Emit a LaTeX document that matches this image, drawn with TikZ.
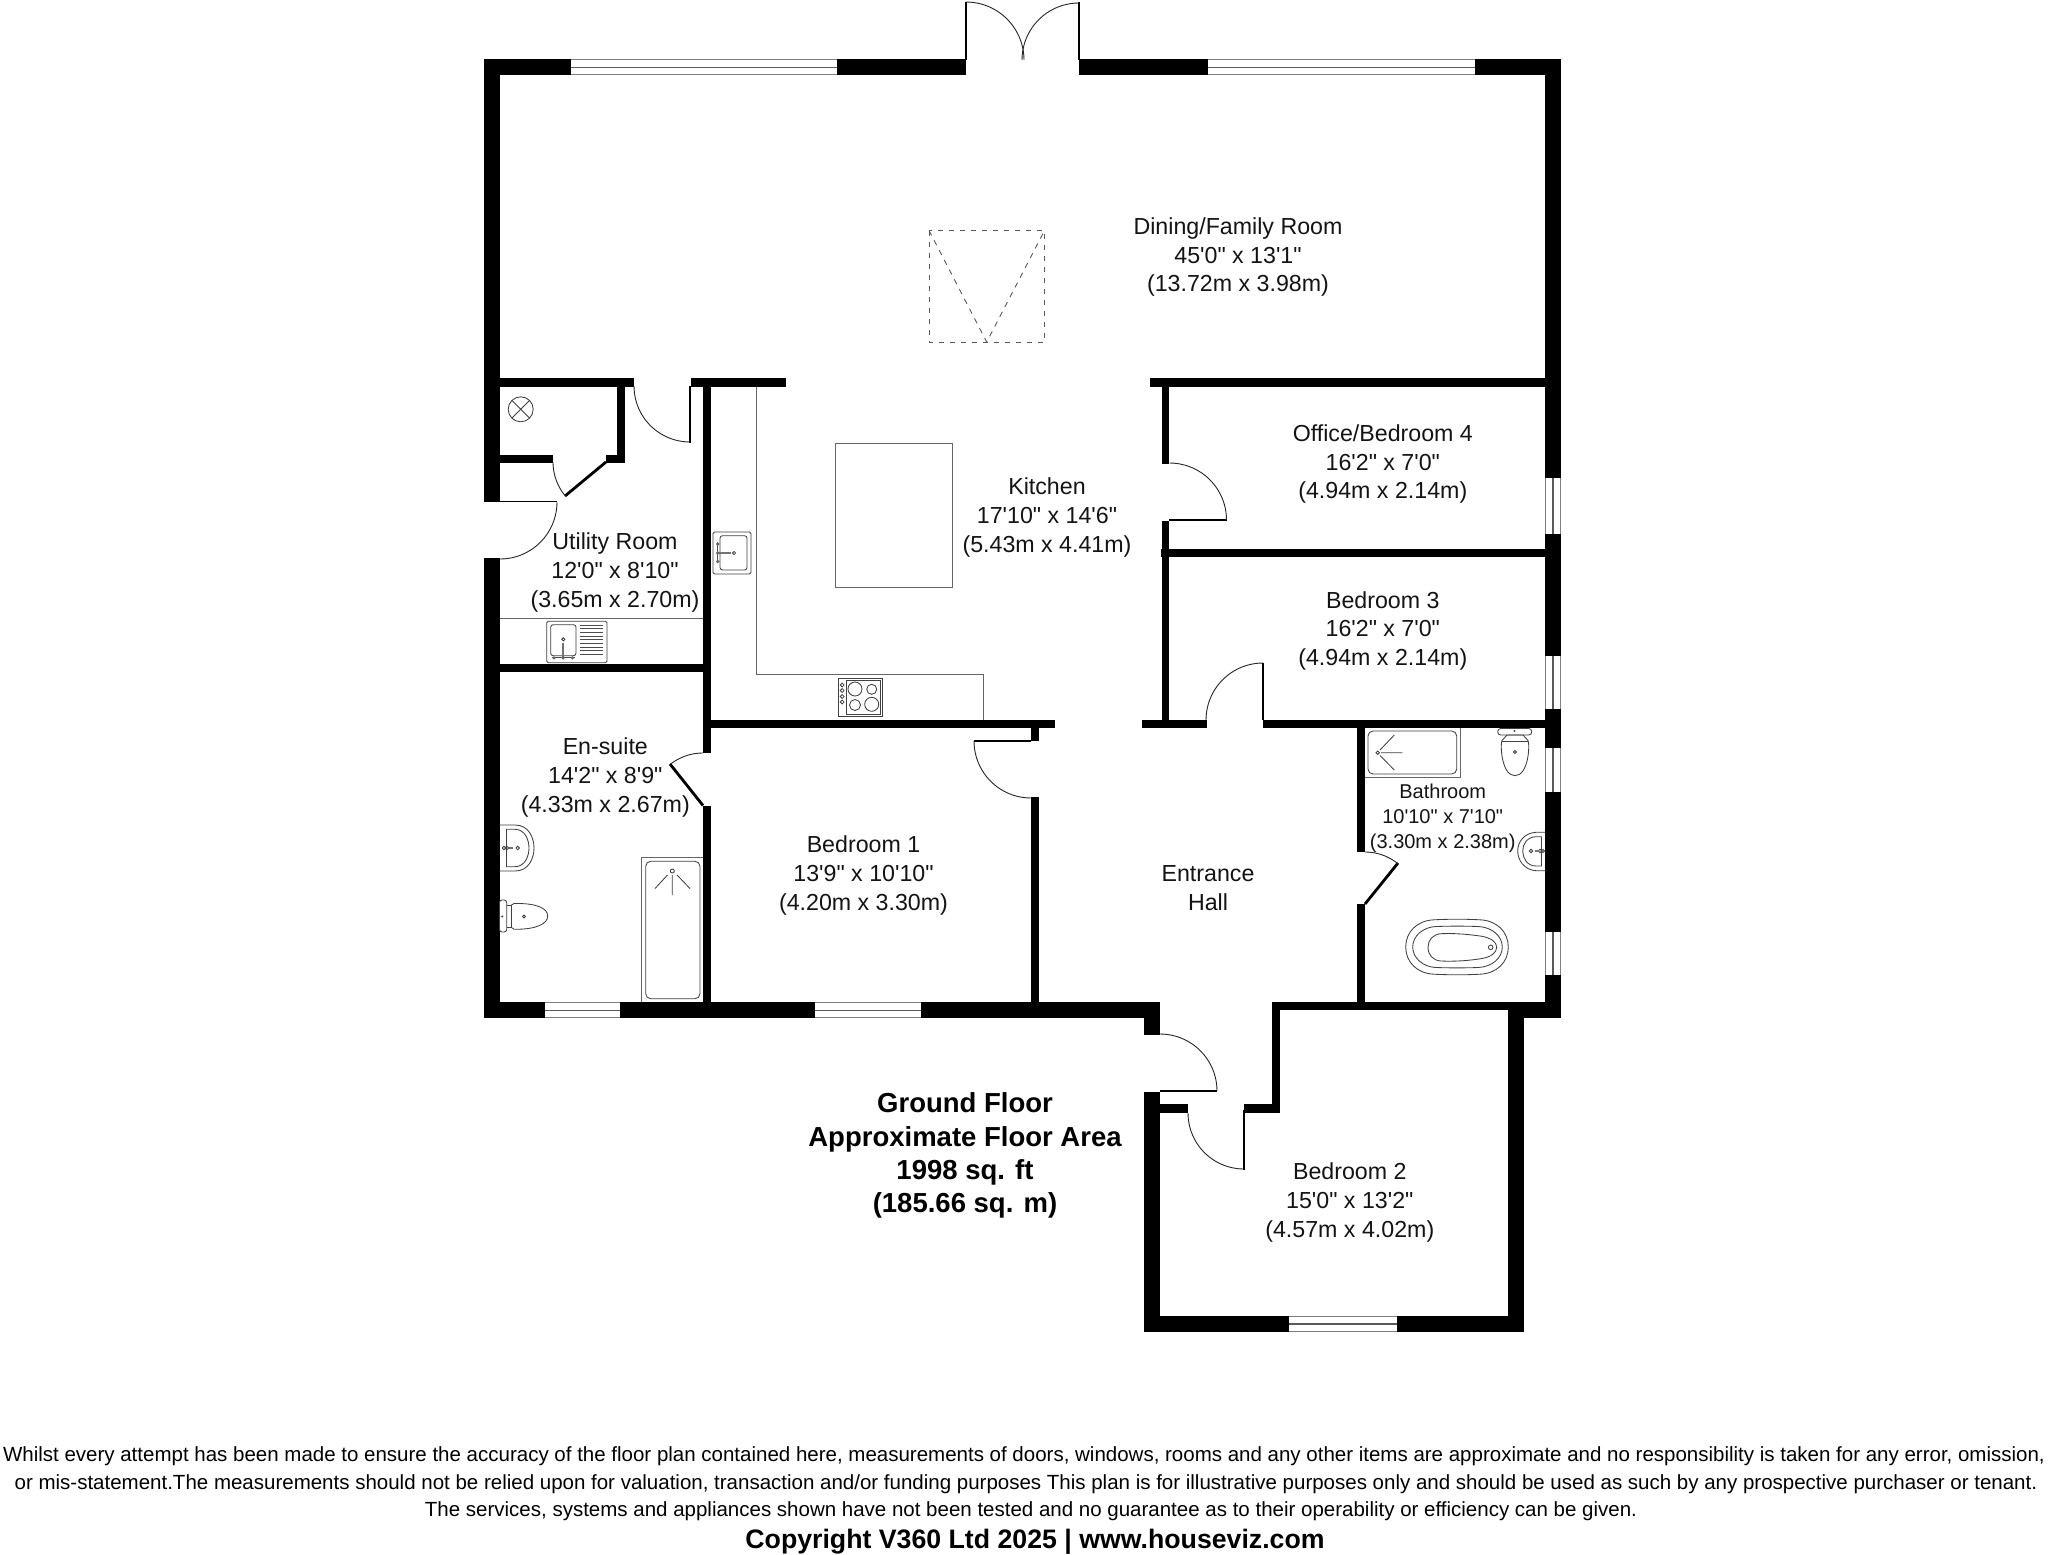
\documentclass[tikz,border=0pt]{standalone}
\usepackage{fontspec}
\newfontfamily\lib{Liberation Sans}
\usetikzlibrary{calc}
\tikzset{
  x=1pt,y=-1pt,
  wallfill/.style={fill=black,draw=none},
  leaf/.style={draw=black,line width=1.9pt},
  thickleaf/.style={draw=black,line width=2.8pt},
  swing/.style={draw=black!85,line width=.9pt},
  pane/.style={draw=black!50,line width=1pt},
  mull/.style={draw=black!65,line width=1.2pt},
  fix/.style={draw=black!75,line width=.85pt},
  counter/.style={draw=black!60,line width=1pt},
  skyl/.style={draw=black!65,line width=.9pt,dash pattern=on 5.5pt off 5.5pt},
  room/.style={font=\lib\fontsize{23.2}{28.7}\selectfont,align=center,inner sep=0pt,text=black!92},
  smallroom/.style={font=\lib\fontsize{20}{25}\selectfont,align=center,inner sep=0pt,text=black!92},
  boldlab/.style={font=\lib\bfseries\fontsize{27.5}{33.2}\selectfont,align=center,inner sep=0pt},
  foot/.style={font=\lib\fontsize{20.5}{27.5}\selectfont,inner sep=0pt},
  copyr/.style={font=\lib\bfseries\fontsize{26.7}{30}\selectfont,inner sep=0pt},
}
\newcommand{\wl}[4]{\fill[wallfill] (#1,#2) rectangle (#3,#4);}
\newcommand{\hwin}[3]{\draw[pane] (#1,#3+.5) -- (#2,#3+.5) (#1,#3+15.5) -- (#2,#3+15.5);\draw[mull] (#1,#3+8) -- (#2,#3+8);}
\newcommand{\vwin}[3]{\draw[pane] (#3+.5,#1) -- (#3+.5,#2) (#3+15.5,#1) -- (#3+15.5,#2);\draw[mull] (#3+8,#1) -- (#3+8,#2);}
\newcommand{\sw}[5]{\draw[swing] plot[domain=#4:#5,samples=24,variable=\t] ({#1+#3*cos(\t)},{#2+#3*sin(\t)});}
\begin{document}
\begin{tikzpicture}
\useasboundingbox (0,0) rectangle (2048,1555);
\fill[white] (0,0) rectangle (2048,1555);

% outer walls
\wl{484}{59.5}{499.5}{502}
\wl{484}{558}{499.5}{1018}
\wl{484}{59.5}{571}{75}
\wl{837}{59.5}{966}{75}
\wl{1079}{59.5}{1208}{75}
\wl{1475}{59.5}{1561}{75}
\wl{1545}{59.5}{1561}{478}
\wl{1545}{534}{1561}{656}
\wl{1545}{709}{1561}{748}
\wl{1545}{792}{1561}{932}
\wl{1545}{975}{1561}{1018}
\wl{484}{1002.3}{545}{1018}
\wl{620}{1002.3}{815}{1018}
\wl{921}{1002.3}{1160}{1018}
\wl{1144}{1002.3}{1160}{1035}
\wl{1144}{1092}{1160}{1332}
\wl{1144}{1316}{1289}{1332}
\wl{1397}{1316}{1524}{1332}
\wl{1508}{1002.3}{1524}{1332}
\wl{1524}{1002.3}{1561}{1018}
% windows, top
\hwin{571}{837}{59.5}
\hwin{1208}{1475}{59.5}
\hwin{545}{620}{1002.3}
\hwin{815}{921}{1002.3}
\hwin{1289}{1397}{1316}
% windows, right
\vwin{478}{534}{1545}
\vwin{656}{709}{1545}
\vwin{748}{792}{1545}
\vwin{932}{975}{1545}

% inner walls
\wl{499}{378}{634}{386.5}
\wl{691}{378}{786}{386.5}
\wl{1150}{378}{1546}{386.5}
\wl{616.7}{378}{624.7}{462}
\wl{499}{454.5}{553.3}{462.5}
\wl{606}{454.5}{624.7}{462.5}
\wl{702.8}{378}{711}{753}
\wl{702.8}{806}{711}{1003}
\wl{499}{664}{703}{672}
\wl{703}{719.5}{1055}{728.3}
\wl{1031}{728}{1039}{741}
\wl{1031}{797}{1039}{1003}
\wl{1161.7}{380}{1169.3}{463.5}
\wl{1161.7}{520.5}{1169.3}{720}
\wl{1161}{549}{1546}{557.3}
\wl{1142}{720}{1206.7}{728.3}
\wl{1263.3}{720}{1546}{728.3}
\wl{1356.7}{720}{1365}{851.7}
\wl{1356.7}{904.3}{1365}{1003}
\wl{1272.3}{1002.3}{1546}{1010.3}
\wl{1272.3}{1002.3}{1280}{1112.7}
\wl{1244}{1104.3}{1280}{1112.7}
\wl{1160}{1104.3}{1187.7}{1112.7}

% door leaves and swings
\draw[leaf] (966,60) -- (966,2);
\sw{966}{60}{58}{270}{360}
\draw[leaf] (1079,60) -- (1079,2);
\sw{1079}{60}{57}{180}{270}
\draw[leaf] (484,501.5) -- (557,501.5);
\sw{500}{502}{57}{0}{90}
\draw[thickleaf] (606,462) -- (565,496);
\sw{606}{462}{53}{140}{180}
\draw[leaf] (690,386) -- (690,442.7);
\sw{690}{386}{56}{90}{180}
\draw[thickleaf] (703,805.5) -- (670,764);
\sw{703}{806}{53}{232}{270}
\draw[leaf] (974,741) -- (1031,741);
\sw{1031}{741}{57}{90}{180}
\draw[leaf] (1169,520) -- (1226.7,520);
\sw{1169.5}{520}{57}{270}{360}
\draw[leaf] (1263,720) -- (1263,662.5);
\sw{1263}{720}{57}{180}{270}
\draw[thickleaf] (1365,904) -- (1398,863);
\sw{1365}{904}{52}{270}{309}
\draw[leaf] (1160,1091) -- (1217,1091);
\sw{1160}{1091}{57}{270}{360}
\draw[leaf] (1244,1110) -- (1244,1169.5);
\sw{1244}{1113}{56}{90}{180}

% skylight
\draw[skyl] (929,230.5) rectangle (1044.5,342);
\draw[skyl] (929,230.5) -- (986.7,342) -- (1044.5,230.5);

% boiler
\draw[fix] (520.7,409.3) circle[radius=12.5];
\draw[fix] (512,400.5) -- (529.5,418) (512,418) -- (529.5,400.5);

% utility worktop and sink
\draw[counter] (499.5,618) -- (703,618);
\draw[fix,rounded corners=1.5pt] (546.7,621.3) rectangle (607,662.7);
\draw[fix,rounded corners=2.5pt] (550.7,624.7) rectangle (576,655.7);
\foreach \yy in {625,628.7,632.4,636.1,639.8,643.5,647.2,650.9,654.6}{\draw[draw=black!70,line width=.85pt] (580,\yy) -- (603,\yy);}
\draw[fix] (563.3,639.3) circle[radius=1.6];
\draw[draw=black!55,line width=1.8pt] (563.3,643) -- (563.3,659);
\draw[draw=black!70,line width=1.2pt] (552,657.8) -- (575,657.8);
\foreach \xx in {554,563.3,572.5}{\fill[black!60] (\xx,657.8) circle[radius=1.8];}

% kitchen worktop, island, sink, hob
\draw[counter] (756.7,386.5) -- (756.7,674.5) -- (983,674.5) -- (983,719.5);
\draw[counter] (835.8,443) rectangle (952.7,587);
\draw[fix,rounded corners=1.5pt] (713,532) rectangle (751,574);
\draw[fix,rounded corners=2.5pt] (720,535.7) rectangle (747,570);
\draw[fix] (734,553) circle[radius=1.6];
\draw[draw=black!55,line width=1.8pt] (716.5,553) -- (730.5,553);
\draw[draw=black!70,line width=1.2pt] (717.7,542) -- (717.7,563);
\foreach \yy in {544,553,561.5}{\fill[black!60] (717.7,\yy) circle[radius=1.8];}
\draw[fix] (838.3,678) rectangle (882.7,716.7);
\draw[fix] (846.7,680.5) rectangle (880.7,714.2);
\draw[fix] (855,689) circle[radius=7];
\draw[fix] (855,705) circle[radius=5.5];
\draw[fix] (871.7,689.3) circle[radius=5];
\draw[fix] (871.7,704.3) circle[radius=7];
\foreach \yy in {685,690.5,696.5,702}{\draw[fix] (842.2,\yy) circle[radius=1.9];}

% en-suite fixtures
\draw[fix] (499.5,825) -- (515,825) .. controls (529,825) and (534,838) .. (534,848) .. controls (534,858) and (529,871) .. (515,871) -- (499.5,871);
\draw[fix] (506.5,829.3) -- (515,829.3) .. controls (525,829.3) and (529,840) .. (529,848) .. controls (529,856) and (525,866.7) .. (515,866.7) -- (506.5,866.7) -- cycle;
\draw[fix] (504,848) circle[radius=1.7] (507,848) circle[radius=1.7] (517.7,848) circle[radius=1.8];
\draw[draw=black!55,line width=1.2pt] (509,848) -- (513,848);
\draw[fix,rounded corners=2.5pt,fill=white] (499.5,900) rectangle (506.7,932);
\draw[fix] (511.5,905) -- (514,903.5) .. controls (536,903) and (547.7,908) .. (547.7,916) .. controls (547.7,924) and (536,929.5) .. (514,929.3) -- (511.5,927.5) -- cycle;
\draw[fix] (506.7,905) -- (511.5,905) (506.7,927.5) -- (511.5,927.5);
\fill[black!70] (502.3,916.5) circle[radius=1.1];
\draw[fix] (524,916.5) circle[radius=1.5];
\draw[counter] (641.7,1002) -- (641.7,857.7) -- (703,857.7);
\draw[fix,rounded corners=5pt] (645.7,861.3) rectangle (700,998.7);
\draw[fix] (672.3,871) circle[radius=2];
\draw[fix] (667.5,875) -- (655,888.5) (672.3,875) -- (672.3,895) (677,875) -- (690,888.5);

% bathroom fixtures
\draw[counter] (1460.3,728.3) -- (1460.3,777.7) -- (1365,777.7);
\draw[fix,rounded corners=5pt] (1368,731) rectangle (1456.7,774);
\draw[fix] (1377.7,752.7) circle[radius=1.8];
\draw[fix] (1380,750) -- (1394.3,735) (1381,752.7) -- (1402.3,752.7) (1380,755.5) -- (1394.3,770);
\draw[fix,rounded corners=3pt,fill=white] (1497.7,728.5) rectangle (1531.7,735);
\draw[fix] (1502,740.5) .. controls (1500,745) and (1501.5,775.5) .. (1515,775.7) .. controls (1528.5,775.5) and (1530,745) .. (1528,740.5) -- (1523,735) -- (1507,735) -- cycle;
\draw[fix] (1502,741) -- (1528,741);
\fill[black!70] (1514.5,731) circle[radius=1.1];
\draw[fix] (1515,752) circle[radius=1.5];
\draw[fix] (1545,832.3) -- (1536,832.3) .. controls (1524,833) and (1517.7,842) .. (1517.7,851) .. controls (1517.7,860) and (1524,870) .. (1536,870.7) -- (1545,870.7);
\draw[fix] (1541.5,836.7) -- (1536,836.7) .. controls (1527,837) and (1522.7,844) .. (1522.7,851) .. controls (1522.7,858) and (1527,866) .. (1536,866) -- (1541.5,866) -- cycle;
\draw[fix] (1531,851) circle[radius=1.7] (1540,851) circle[radius=1.7] (1543,851) circle[radius=1.5];
\draw[draw=black!55,line width=1.3pt] (1535,851) -- (1539,851);
\draw[fix] (1434,919.8) .. controls (1450,919) and (1465,919) .. (1480,919.8) .. controls (1497,920.5) and (1508.3,932) .. (1508.3,947) .. controls (1508.3,962) and (1497,973.5) .. (1480,974.2) .. controls (1465,975) and (1450,975) .. (1434,974.2) .. controls (1417,973.5) and (1405.7,962) .. (1405.7,947) .. controls (1405.7,932) and (1417,920.5) .. (1434,919.8) -- cycle;
\draw[fix] (1436,926.5) .. controls (1450,926) and (1465,926) .. (1478,926.5) .. controls (1492,927) and (1502.3,936) .. (1502.3,947) .. controls (1502.3,958) and (1492,967) .. (1478,967.5) .. controls (1465,968) and (1450,968) .. (1436,967.5) .. controls (1423,967) and (1412.7,958) .. (1412.7,947) .. controls (1412.7,936) and (1423,927) .. (1436,926.5) -- cycle;
\draw[fix] (1441,933.7) .. controls (1455,933) and (1470,934.5) .. (1482,936.3) .. controls (1491,938) and (1496.7,942) .. (1496.7,947.3) .. controls (1496.7,952.6) and (1491,957) .. (1482,958.5) .. controls (1470,960.5) and (1455,961.7) .. (1441,961) .. controls (1433,960.5) and (1428,955) .. (1428,947.3) .. controls (1428,940) and (1433,934.2) .. (1441,933.7) -- cycle;
\draw[fix] (1490.7,947.3) circle[radius=2.3];

% room labels
\node[room] (dining) at (1238,257) {Dining/Family Room\\45'0" x 13'1"\\(13.72m x 3.98m)};
\node[room] (office) at (1382.8,464) {Office/Bedroom 4\\16'2" x 7'0"\\(4.94m x 2.14m)};
\node[room] (bedthree) at (1382.8,630.7) {Bedroom 3\\16'2" x 7'0"\\(4.94m x 2.14m)};
\node[room] (kitchen) at (1047,517.3) {Kitchen\\17'10" x 14'6"\\(5.43m x 4.41m)};
\node[room] (utility) at (615,572.3) {Utility Room\\12'0" x 8'10"\\(3.65m x 2.70m)};
\node[room] (ensuite) at (605.3,777.3) {En-suite\\14'2" x 8'9"\\(4.33m x 2.67m)};
\node[room] (bedone) at (863.5,875.3) {Bedroom 1\\13'9" x 10'10"\\(4.20m x 3.30m)};
\node[room] (hall) at (1208,888) {Entrance\\Hall};
\node[smallroom] (bath) at (1442.7,818) {Bathroom\\10'10" x 7'10"\\(3.30m x 2.38m)};
\node[room] (bedtwo) at (1349.8,1202.3) {Bedroom 2\\15'0" x 13'2"\\(4.57m x 4.02m)};
\node[boldlab] (area) at (965,1155.5) {Ground Floor\\Approximate Floor Area\\1998 sq. ft\\(185.66 sq. m)};

% footer
\node[foot] (lineone) at (1024,1456.5) {Whilst every attempt has been made to ensure the accuracy of the floor plan contained here, measurements of doors, windows, rooms and any other items are approximate and no responsibility is taken for any error, omission,};
\node[foot] (linetwo) at (1026,1484) {or mis-statement.The measurements should not be relied upon for valuation, transaction and/or funding purposes This plan is for illustrative purposes only and should be used as such by any prospective purchaser or tenant.};
\node[foot] (linethree) at (1031,1511) {The services, systems and appliances shown have not been tested and no guarantee as to their operability or efficiency can be given.};
\node[copyr] (copy) at (1035,1541.5) {Copyright V360 Ltd 2025 | www.houseviz.com};
\end{tikzpicture}
\end{document}
